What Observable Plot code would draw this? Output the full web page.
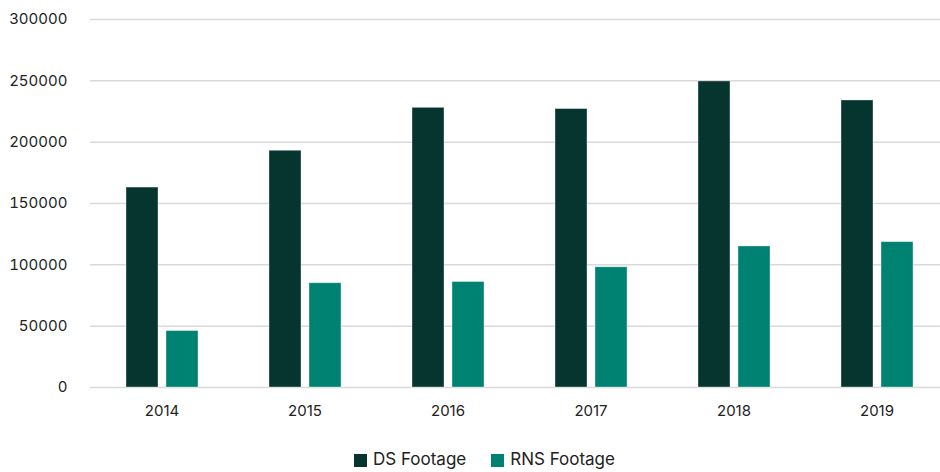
<!DOCTYPE html>
<html>
<head>
<meta charset="utf-8">
<script src="https://cdn.jsdelivr.net/npm/d3@7"></script>
<script src="https://cdn.jsdelivr.net/npm/@observablehq/plot@0.6"></script>
<style>
  html, body { margin: 0; padding: 0; background: #fff; overflow: hidden; }
  body { width: 940px; height: 472px; position: relative; font-family: Inter, "Noto Sans", sans-serif; }
  #chart { width: 940px; overflow: hidden; }
  #chart svg { max-width: none !important; }
  #legend { position: absolute; left: 354px; top: 449px; display: flex; align-items: center; font-size: 17px; color: #222; }
  #legend .item { display: flex; align-items: center; margin-right: 25px; }
  #legend .sw { width: 13px; height: 13px; margin-right: 6px; margin-top: 3px; }
</style>
</head>
<body>
<div id="chart"></div>
<div id="legend"></div>
<script>
const years = ["2014", "2015", "2016", "2017", "2018", "2019"];
const seriesNames = ["DS Footage", "RNS Footage"];
const dsFootage = [163000, 193000, 228000, 227000, 249500, 234000];
const rnsFootage = [46000, 85000, 86000, 98000, 115000, 118500];
const yTicks = [0, 50000, 100000, 150000, 200000, 250000, 300000];
const colors = ["#06352f", "#008272"];

const data = [];
years.forEach((yr, i) => {
  data.push({year: yr, series: seriesNames[0], value: dsFootage[i]});
  data.push({year: yr, series: seriesNames[1], value: rnsFootage[i]});
});

const chart = Plot.plot({
  width: 948,
  height: 430,
  marginLeft: 90,
  marginRight: 0,
  marginTop: 19,
  marginBottom: 43,
  style: { fontFamily: "Inter, 'Noto Sans', sans-serif", fontSize: "15px", color: "#222", background: "#fff", maxWidth: "none" },
  fx: { domain: years, padding: 0, label: null, axis: "bottom", tickSize: 0, tickPadding: 18 },
  x: { domain: seriesNames, axis: null, paddingInner: 0.2, paddingOuter: 0.8875 },
  y: { domain: [0, 300000], ticks: yTicks, tickFormat: d => String(d), tickSize: 0, tickPadding: 23, label: null, grid: false },
  color: { domain: seriesNames, range: colors },
  marks: [
    Plot.ruleY(yTicks, { stroke: "#d9d9d9", strokeWidth: 1.5 }),
    Plot.barY(data, { fx: "year", x: "series", y: "value", fill: "series", stroke: "#ffffff", strokeOpacity: 0.45, strokeWidth: 0.8 })
  ]
});
document.getElementById("chart").appendChild(chart);

const legend = document.getElementById("legend");
seriesNames.forEach((name, i) => {
  const item = document.createElement("div");
  item.className = "item";
  const sw = document.createElement("div");
  sw.className = "sw";
  sw.style.background = colors[i];
  const label = document.createElement("span");
  label.textContent = name;
  item.appendChild(sw);
  item.appendChild(label);
  legend.appendChild(item);
});
</script>
</body>
</html>
